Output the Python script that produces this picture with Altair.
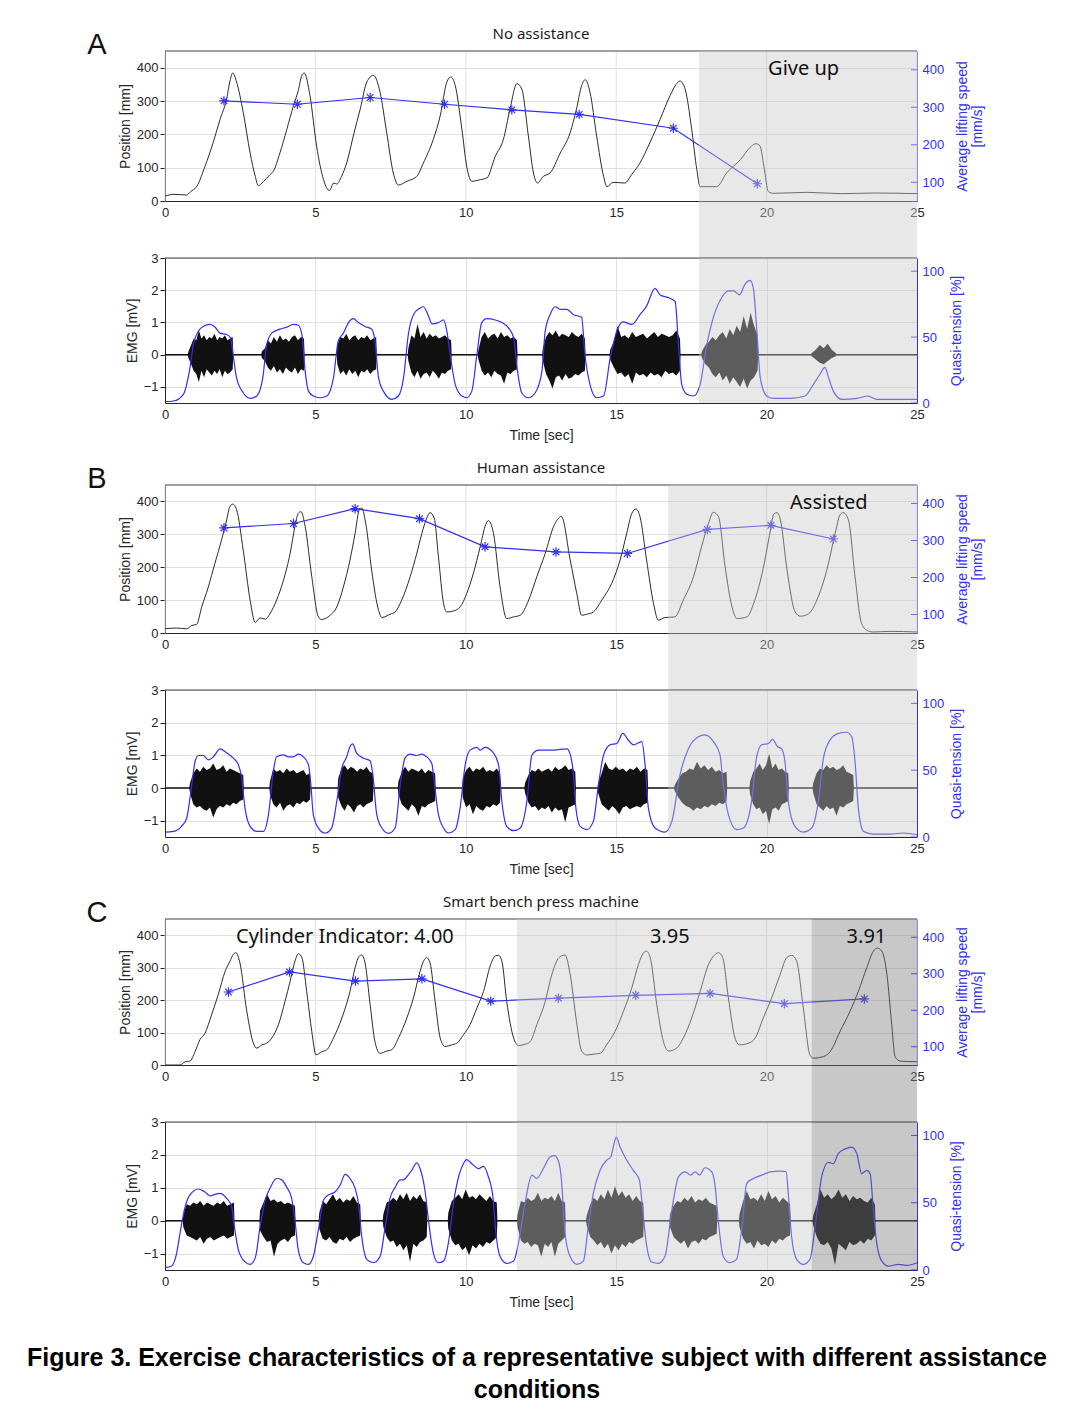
import altair as alt
import numpy as np
import pandas as pd

# ---------------- data ----------------
X_TICKS = [0, 5, 10, 15, 20, 25]
POS_TICKS = [0, 100, 200, 300, 400]
SPD_TICKS = [100, 200, 300, 400]
EMG_TICKS = [-1, 0, 1, 2, 3]
QT_TICKS = [0, 50, 100]

# Panel A - position [mm] (time, value)
A_POS = [(0, 15), (0.3, 20), (0.72, 18), (0.85, 28), (1.05, 43), (1.33, 104), (1.6, 175), (1.83, 245), (2.05, 306), (2.16, 360),
         (2.25, 384), (2.38, 357), (2.6, 266), (2.83, 144), (3.0, 74), (3.1, 46), (3.27, 58), (3.49, 79), (3.6, 89), (3.82, 144),
         (4.05, 215), (4.27, 286), (4.43, 331), (4.55, 377), (4.63, 384), (4.82, 316), (5.04, 165), (5.27, 64), (5.47, 31), (5.6, 54),
         (5.71, 51), (5.87, 74), (6.04, 114), (6.26, 195), (6.49, 276), (6.71, 357), (6.93, 377), (7.15, 326), (7.37, 205), (7.59, 84),
         (7.76, 48), (8.04, 59), (8.37, 74), (8.59, 114), (8.92, 185), (9.15, 256), (9.37, 357), (9.5, 372), (9.65, 346), (9.87, 215),
         (10.03, 104), (10.2, 59), (10.48, 64), (10.7, 69), (10.98, 134), (11.25, 185), (11.47, 276), (11.7, 352), (11.86, 336), (12.08, 195),
         (12.25, 84), (12.38, 54), (12.58, 74), (12.8, 84), (13.14, 144), (13.47, 205), (13.68, 276), (13.85, 346), (13.97, 364), (14.13, 326),
         (14.35, 195), (14.58, 74), (14.69, 43), (14.9, 56), (15.29, 54), (15.51, 79), (15.79, 114), (16.12, 175), (16.46, 245), (16.79, 316),
         (17.01, 352), (17.12, 360), (17.29, 336), (17.51, 215), (17.68, 94), (17.79, 43), (18.34, 43), (18.67, 84), (19.13, 124), (19.5, 165),
         (19.65, 172), (19.78, 165), (19.91, 104), (20.06, 28), (20.23, 23), (21.33, 26), (22.5, 22), (23.6, 24), (25, 22)]
A_SPD_T = [1.96, 4.40, 6.82, 9.29, 11.53, 13.77, 16.90, 19.69]
A_SPD = [317, 308, 326, 308, 293, 281, 244, 96]
# Panel A - quasi-tension [%]
A_QT = [(0, 1), (0.28, 1.5), (0.61, 6.6), (0.83, 26.8), (0.94, 44), (1.11, 54.5), (1.27, 58), (1.5, 59.6), (1.66, 57.6), (1.83, 53),
        (2.05, 52), (2.18, 49.5), (2.25, 39), (2.38, 19), (2.6, 7.8), (2.83, 3.5), (3.05, 5.3), (3.25, 19), (3.38, 44), (3.55, 53),
        (3.82, 56), (4.05, 57.6), (4.27, 59.6), (4.43, 59), (4.55, 52), (4.66, 24), (4.77, 9), (4.93, 5.3), (5.16, 4), (5.38, 5.3),
        (5.6, 19), (5.76, 47), (5.93, 53), (6.1, 61), (6.26, 64), (6.43, 61), (6.65, 58), (6.87, 56), (6.98, 47), (7.1, 19),
        (7.26, 9), (7.54, 2.8), (7.76, 5.3), (7.93, 19), (8.09, 52), (8.26, 67), (8.48, 72), (8.59, 73), (8.76, 66), (8.87, 60),
        (9.09, 61), (9.26, 63), (9.37, 54.5), (9.48, 37), (9.65, 14), (9.87, 5.3), (10.03, 4), (10.2, 9), (10.37, 37), (10.53, 61),
        (10.7, 64), (10.98, 63), (11.2, 61), (11.42, 57), (11.59, 49.5), (11.72, 24), (11.86, 7.8), (12.08, 4), (12.31, 7.8), (12.53, 24),
        (12.64, 54.5), (12.8, 67), (12.97, 73), (13.14, 71), (13.36, 71), (13.58, 67), (13.74, 66), (13.85, 65), (13.96, 37), (14.13, 14),
        (14.35, 4), (14.58, 5.3), (14.8, 34), (15.02, 54.5), (15.22, 61.6), (15.52, 59.6), (15.79, 67), (16.01, 73.5), (16.29, 87), (16.46, 82),
        (16.73, 80), (16.96, 77), (17.07, 44), (17.18, 14), (17.35, 6.6), (17.57, 5.3), (17.79, 14), (18.01, 44), (18.23, 65), (18.51, 80),
        (18.73, 85), (18.9, 85), (19.1, 82), (19.28, 90), (19.45, 93), (19.56, 87), (19.67, 57), (19.79, 19), (20.0, 5.3), (20.22, 3.5),
        (20.78, 3.5), (21.28, 5.3), (21.55, 14), (21.78, 22), (21.94, 27), (22.05, 20), (22.22, 9), (22.5, 2.8), (23.0, 3.5), (23.38, 5.3),
        (23.66, 2.8), (25, 2.8)]
# Panel A - EMG bursts [mV]: (start s, end s, upper peaks, lower peaks)
A_EMG = [
    (0.78, 2.25, [0.1, 0.3, 0.5, 0.45, 0.75, 0.5, 0.6, 0.45, 0.55, 0.5, 0.65, 0.45, 0.55, 0.5, 0.6, 0.45, 0.5, 0.55],
     [-0.1, -0.3, -0.5, -0.6, -0.85, -0.5, -0.7, -0.45, -0.55, -0.65, -0.5, -0.6, -0.45, -0.7, -0.5, -0.6, -0.55, -0.45]),
    (3.22, 4.62, [0.1, 0.2, 0.45, 0.35, 0.55, 0.4, 0.6, 0.45, 0.5, 0.4, 0.55, 0.6, 0.45, 0.55, 0.5],
     [-0.1, -0.2, -0.4, -0.5, -0.35, -0.55, -0.45, -0.6, -0.4, -0.5, -0.55, -0.4, -0.6, -0.45, -0.5]),
    (5.73, 7.02, [0.3, 0.55, 0.5, 0.65, 0.45, 0.55, 0.6, 0.45, 0.55, 0.5, 0.6, 0.45, 0.5, 0.55],
     [-0.3, -0.6, -0.5, -0.65, -0.45, -0.6, -0.5, -0.7, -0.5, -0.55, -0.45, -0.6, -0.5, -0.45]),
    (8.09, 9.51, [0.2, 0.6, 0.5, 0.95, 0.55, 0.7, 0.5, 0.65, 0.55, 0.6, 0.5, 0.55, 0.6, 0.5, 0.45],
     [-0.2, -0.55, -0.7, -0.5, -0.75, -0.6, -0.55, -0.7, -0.5, -0.6, -0.75, -0.55, -0.6, -0.5, -0.45]),
    (10.42, 11.7, [0.15, 0.55, 0.7, 0.5, 0.6, 0.65, 0.5, 0.7, 0.55, 0.6, 0.5, 0.55, 0.45],
     [-0.15, -0.5, -0.65, -0.55, -0.7, -0.5, -0.6, -0.65, -0.9, -0.55, -0.6, -0.5, -0.45]),
    (12.56, 13.96, [0.2, 0.55, 0.7, 0.6, 0.75, 0.55, 0.65, 0.6, 0.55, 0.7, 0.6, 0.55, 0.65, 0.5],
     [-0.2, -0.6, -0.8, -1.05, -0.7, -0.65, -0.8, -0.6, -0.75, -0.7, -0.6, -0.65, -0.55, -0.5]),
    (14.8, 17.12, [0.15, 0.4, 0.9, 0.55, 0.6, 0.5, 0.7, 0.55, 0.6, 0.65, 0.5, 0.6, 0.7, 0.55, 0.65, 0.6, 0.55, 0.6, 0.75, 0.5],
     [-0.15, -0.4, -0.6, -0.55, -0.7, -0.6, -0.9, -0.55, -0.65, -0.6, -0.7, -0.55, -0.65, -0.6, -0.7, -0.5, -0.6, -0.55, -0.65, -0.5]),
    (17.85, 19.7, [0.1, 0.3, 0.4, 0.55, 0.45, 0.6, 0.7, 0.5, 0.8, 0.6, 0.9, 0.7, 1.2, 0.8, 1.3, 0.9, 0.6],
     [-0.1, -0.3, -0.4, -0.6, -0.7, -0.55, -0.8, -0.65, -0.9, -0.7, -0.85, -1.0, -0.75, -1.05, -0.8, -0.7, -0.5]),
    (21.5, 22.3, [0.05, 0.15, 0.3, 0.2, 0.34, 0.15, 0.05],
     [-0.05, -0.15, -0.25, -0.3, -0.2, -0.1, -0.05]),
]
A_SHADE = [17.75, 25]

# Panel B
B_POS = [(0, 13), (0.39, 15), (0.72, 13), (0.89, 23), (1.05, 26), (1.22, 79), (1.44, 140), (1.66, 212), (1.88, 283), (2.05, 344),
         (2.16, 385), (2.25, 392), (2.38, 375), (2.6, 252), (2.83, 100), (3.0, 32), (3.16, 46), (3.33, 42), (3.49, 59), (3.71, 100),
         (3.94, 161), (4.16, 242), (4.32, 324), (4.43, 364), (4.52, 369), (4.66, 324), (4.88, 171), (5.1, 49), (5.21, 41), (5.49, 54),
         (5.71, 79), (5.93, 140), (6.15, 222), (6.32, 303), (6.46, 375), (6.54, 380), (6.69, 324), (6.87, 191), (7.1, 69), (7.21, 47),
         (7.48, 57), (7.65, 64), (7.87, 100), (8.15, 171), (8.37, 242), (8.54, 303), (8.7, 349), (8.81, 366), (8.95, 349), (9.09, 232),
         (9.26, 90), (9.37, 64), (9.59, 67), (9.81, 79), (10.03, 120), (10.25, 181), (10.48, 263), (10.64, 324), (10.75, 342), (10.92, 303),
         (11.14, 140), (11.36, 44), (11.59, 49), (11.81, 54), (12.09, 100), (12.36, 171), (12.64, 242), (12.92, 324), (13.18, 354), (13.47, 222),
         (13.69, 120), (13.85, 54), (14.02, 57), (14.24, 64), (14.52, 100), (14.85, 151), (15.13, 222), (15.35, 303), (15.52, 364), (15.66, 377),
         (15.79, 354), (16.01, 222), (16.24, 90), (16.4, 39), (16.62, 47), (16.95, 49), (17.23, 100), (17.57, 171), (17.84, 263), (18.07, 334),
         (18.23, 367), (18.4, 354), (18.62, 202), (18.85, 79), (19.02, 44), (19.35, 49), (19.57, 90), (19.85, 181), (20.13, 313), (20.24, 362),
         (20.35, 366), (20.46, 344), (20.68, 191), (20.95, 64), (21.12, 51), (21.4, 59), (21.67, 100), (22.0, 191), (22.28, 303), (22.44, 359),
         (22.55, 366), (22.72, 344), (22.94, 171), (23.16, 28), (23.38, 6), (23.55, 3), (24.1, 5), (25, 3)]
B_SPD_T = [1.96, 4.27, 6.32, 8.46, 10.64, 13.0, 15.37, 18.03, 20.14, 22.22]
B_SPD = [334, 346, 386, 359, 283, 269, 265, 330, 341, 304]
B_QT = [(0, 3.7), (0.28, 4.2), (0.55, 8), (0.72, 14), (0.89, 39), (1.0, 56.5), (1.11, 61), (1.27, 61), (1.44, 57.7), (1.61, 60),
        (1.83, 66), (2.05, 63), (2.27, 59), (2.44, 54), (2.55, 44), (2.66, 21.6), (2.83, 8), (3.05, 4.2), (3.27, 4.2), (3.44, 16.7),
        (3.6, 49), (3.71, 60), (3.94, 61.4), (4.1, 60), (4.27, 60), (4.43, 62), (4.6, 60), (4.77, 54), (4.85, 39), (4.93, 16.7),
        (5.1, 6.7), (5.32, 3), (5.54, 6.7), (5.71, 26.6), (5.88, 51.5), (6.04, 60), (6.15, 67.7), (6.24, 69.7), (6.37, 62.7), (6.6, 59),
        (6.82, 57), (6.91, 46.5), (7.04, 16.7), (7.21, 6.7), (7.43, 2.7), (7.65, 6.7), (7.82, 39), (7.98, 59), (8.15, 62), (8.37, 61),
        (8.54, 62), (8.7, 60), (8.87, 55), (8.95, 41.5), (9.09, 16.7), (9.26, 6.7), (9.42, 3), (9.65, 5.5), (9.81, 21.6), (9.98, 54),
        (10.14, 65), (10.37, 67), (10.48, 65), (10.64, 67), (10.92, 62.7), (11.09, 54), (11.2, 26.6), (11.36, 8), (11.59, 4.7), (11.81, 6.7),
        (12.03, 26.6), (12.2, 61.4), (12.42, 65), (12.92, 65), (13.36, 66), (13.47, 62), (13.58, 46.5), (13.66, 21.6), (13.8, 8), (14.02, 5.5),
        (14.24, 11.7), (14.41, 39), (14.58, 61.4), (14.8, 69), (15.02, 70), (15.22, 77.6), (15.4, 72.6), (15.57, 69), (15.85, 71.4), (15.96, 54),
        (16.07, 21.6), (16.29, 6.7), (16.62, 3.7), (16.85, 11.7), (17.12, 46.5), (17.4, 66), (17.73, 75), (17.95, 76.4), (18.23, 71.4), (18.45, 61.4),
        (18.56, 39), (18.73, 16.7), (19.0, 5.5), (19.23, 6.7), (19.5, 26.6), (19.67, 60), (19.84, 69), (20.06, 70), (20.2, 73), (20.36, 67.7),
        (20.5, 66), (20.61, 56.5), (20.72, 26.6), (20.94, 8), (21.22, 3.7), (21.5, 6.7), (21.72, 26.6), (21.89, 59), (22.11, 72.6), (22.39, 77.6),
        (22.66, 78.4), (22.83, 75), (22.94, 56.5), (23.05, 21.6), (23.22, 4.2), (23.55, 2.2), (24.1, 2.2), (24.55, 3), (25, 1.7)]
B_EMG = [
    (0.83, 2.6, [0.15, 0.45, 0.6, 0.5, 0.65, 0.55, 0.6, 0.75, 0.55, 0.6, 0.7, 0.5, 0.6, 0.55, 0.5, 0.45, 0.4],
     [-0.15, -0.5, -0.6, -0.55, -0.65, -0.7, -0.6, -0.9, -0.65, -0.55, -0.6, -0.5, -0.55, -0.45, -0.5, -0.4, -0.35]),
    (3.49, 4.82, [0.2, 0.6, 0.5, 0.55, 0.45, 0.6, 0.5, 0.55, 0.45, 0.5, 0.55, 0.4, 0.45],
     [-0.2, -0.5, -0.6, -0.45, -0.7, -0.55, -0.5, -0.6, -0.45, -0.5, -0.4, -0.45, -0.35]),
    (5.76, 6.91, [0.3, 0.6, 0.7, 0.55, 0.65, 0.6, 0.5, 0.6, 0.55, 0.65, 0.5, 0.45],
     [-0.3, -0.55, -0.7, -0.5, -0.6, -0.75, -0.55, -0.5, -0.6, -0.5, -0.45, -0.4]),
    (7.76, 8.98, [0.2, 0.5, 0.65, 0.5, 0.6, 0.55, 0.5, 0.6, 0.45, 0.55, 0.5, 0.45],
     [-0.2, -0.5, -0.6, -0.7, -0.5, -0.6, -0.85, -0.55, -0.6, -0.5, -0.45, -0.4]),
    (9.9, 11.14, [0.3, 0.55, 0.65, 0.5, 0.6, 0.55, 0.65, 0.5, 0.55, 0.5, 0.6, 0.45],
     [-0.3, -0.6, -0.5, -0.8, -0.55, -0.65, -0.7, -0.55, -0.6, -0.5, -0.55, -0.45]),
    (11.97, 13.64, [0.15, 0.4, 0.55, 0.5, 0.6, 0.5, 0.55, 0.6, 0.5, 0.65, 0.55, 0.6, 0.7, 0.55, 0.6, 0.5],
     [-0.15, -0.45, -0.6, -0.55, -0.7, -0.6, -0.65, -0.55, -0.75, -0.6, -0.7, -0.65, -1.05, -0.6, -0.55, -0.5]),
    (14.4, 16.04, [0.15, 0.45, 0.8, 0.6, 0.55, 0.65, 0.55, 0.6, 0.5, 0.6, 0.55, 0.65, 0.5, 0.6, 0.55],
     [-0.15, -0.5, -0.6, -0.7, -0.55, -0.65, -0.8, -0.6, -0.55, -0.65, -0.6, -0.55, -0.6, -0.5, -0.45]),
    (16.95, 18.67, [0.1, 0.3, 0.45, 0.5, 0.6, 0.55, 0.8, 0.6, 0.7, 0.55, 0.65, 0.5, 0.55, 0.45, 0.5],
     [-0.1, -0.3, -0.45, -0.55, -0.6, -0.7, -0.6, -0.65, -0.55, -0.6, -0.5, -0.55, -0.45, -0.5, -0.4]),
    (19.45, 20.72, [0.2, 0.5, 0.6, 0.75, 0.55, 0.7, 1.05, 0.6, 0.75, 0.55, 0.6, 0.5, 0.45],
     [-0.2, -0.5, -0.65, -0.6, -0.8, -0.7, -1.1, -0.65, -0.6, -0.7, -0.5, -0.45, -0.4]),
    (21.55, 22.88, [0.15, 0.45, 0.6, 0.55, 0.7, 0.6, 0.65, 0.55, 0.6, 0.7, 0.5, 0.45, 0.4],
     [-0.15, -0.5, -0.6, -0.7, -0.55, -0.65, -0.6, -0.85, -0.55, -0.6, -0.5, -0.45, -0.4]),
]
B_SHADE = [16.73, 25]

# Panel C
C_POS = [(0, 0), (0.5, 0), (0.67, 10), (0.83, 12), (1.0, 41), (1.16, 78), (1.33, 98), (1.55, 155), (1.77, 217), (2.0, 289),
         (2.16, 320), (2.27, 341), (2.36, 346), (2.49, 315), (2.72, 165), (2.94, 67), (3.05, 52), (3.22, 62), (3.38, 67), (3.55, 83),
         (3.77, 124), (3.99, 196), (4.16, 258), (4.32, 320), (4.43, 343), (4.55, 331), (4.71, 227), (4.88, 103), (5.02, 31), (5.21, 41),
         (5.38, 47), (5.6, 83), (5.88, 145), (6.15, 227), (6.32, 300), (6.46, 336), (6.54, 339), (6.65, 315), (6.82, 186), (6.98, 72),
         (7.15, 36), (7.37, 43), (7.54, 47), (7.76, 83), (8.04, 145), (8.26, 207), (8.48, 289), (8.63, 326), (8.7, 331), (8.81, 315),
         (8.98, 196), (9.15, 83), (9.31, 57), (9.53, 62), (9.7, 67), (9.92, 93), (10.14, 124), (10.37, 176), (10.59, 227), (10.81, 305),
         (10.98, 336), (11.09, 338), (11.2, 320), (11.36, 196), (11.59, 83), (11.75, 60), (11.97, 64), (12.14, 72), (12.36, 124), (12.64, 196),
         (12.86, 279), (13.1, 331), (13.3, 339), (13.47, 279), (13.68, 134), (13.85, 43), (14.02, 31), (14.3, 34), (14.47, 36), (14.68, 62),
         (14.96, 103), (15.24, 165), (15.52, 238), (15.74, 310), (15.91, 346), (16.0, 351), (16.13, 331), (16.35, 186), (16.57, 72), (16.74, 43),
         (17.01, 52), (17.23, 83), (17.51, 145), (17.79, 227), (18.07, 310), (18.29, 341), (18.4, 346), (18.54, 331), (18.73, 207), (18.95, 83),
         (19.1, 62), (19.39, 67), (19.62, 83), (19.89, 145), (20.17, 207), (20.45, 279), (20.67, 331), (20.84, 338), (21.0, 320), (21.22, 176),
         (21.44, 31), (21.55, 21), (21.89, 26), (22.11, 41), (22.44, 103), (22.77, 165), (23.05, 227), (23.33, 300), (23.55, 351), (23.68, 360),
         (23.83, 351), (24.0, 279), (24.16, 124), (24.27, 26), (24.44, 12), (25, 10)]
C_SPD_T = [2.11, 4.14, 6.33, 8.54, 10.83, 13.08, 15.65, 18.12, 20.59, 23.25]
C_SPD = [250, 305, 280, 286, 225, 233, 241, 246, 218, 231]
C_QT = [(0, 1.7), (0.22, 3), (0.39, 12.8), (0.5, 27.5), (0.67, 47), (0.83, 55.8), (1.11, 60.2), (1.33, 58), (1.5, 55), (1.61, 55.8),
        (1.83, 57), (2.05, 53.3), (2.22, 47), (2.29, 35), (2.44, 15), (2.66, 6), (2.83, 4.2), (3.0, 9), (3.16, 32), (3.33, 52),
        (3.49, 60.7), (3.71, 68), (3.88, 67), (4.05, 61.4), (4.21, 53.3), (4.32, 37), (4.43, 15), (4.6, 5.4), (4.77, 4.2), (4.93, 10),
        (5.1, 30), (5.27, 52), (5.43, 55.8), (5.65, 58), (5.82, 63), (5.99, 71), (6.15, 68), (6.32, 60.7), (6.43, 49.6), (6.54, 25),
        (6.71, 7.9), (6.93, 5.4), (7.15, 10), (7.32, 32), (7.48, 53.3), (7.65, 61.4), (7.82, 67), (7.93, 67), (8.04, 69.3), (8.2, 74),
        (8.37, 79.6), (8.48, 75.4), (8.65, 58), (8.76, 37), (8.92, 12.8), (9.09, 5.4), (9.26, 6.6), (9.42, 20), (9.59, 49.6), (9.76, 69.3),
        (9.92, 79), (10.03, 82), (10.2, 79), (10.42, 75.4), (10.59, 77), (10.75, 69.3), (10.9, 54.5), (11.0, 27.5), (11.14, 10), (11.36, 4.9),
        (11.59, 6.6), (11.75, 20), (11.97, 49.6), (12.2, 70.5), (12.36, 68), (12.58, 75.4), (12.8, 84), (12.95, 85), (13.08, 81), (13.18, 67),
        (13.28, 32), (13.42, 12.8), (13.69, 4.2), (13.91, 6.6), (14.07, 32), (14.24, 57), (14.46, 74), (14.68, 81.6), (14.82, 84), (14.93, 94),
        (15.0, 98.8), (15.13, 91.4), (15.35, 81.6), (15.57, 74), (15.77, 67), (15.85, 52), (16.0, 20), (16.18, 5.9), (16.4, 4.9), (16.62, 10),
        (16.85, 44.7), (17.07, 69.3), (17.29, 73), (17.48, 70.5), (17.62, 73), (17.77, 70.5), (17.95, 76), (18.18, 73), (18.29, 62), (18.4, 35),
        (18.56, 10), (18.78, 5.4), (19.0, 7.9), (19.17, 30), (19.34, 64.4), (19.56, 68), (19.84, 70.5), (20.12, 73), (20.45, 73.5), (20.65, 73),
        (20.72, 57), (20.83, 25), (21.0, 7.9), (21.22, 4.2), (21.44, 7.9), (21.64, 37), (21.83, 69.3), (22.05, 80), (22.22, 79), (22.38, 86.5),
        (22.61, 90), (22.83, 91.4), (23.0, 86.5), (23.16, 71.7), (23.33, 74), (23.44, 71.7), (23.55, 44.7), (23.66, 20), (23.83, 6.6), (24.05, 2.9),
        (24.38, 4.2), (24.66, 3.4), (25, 5.4)]
C_EMG = [
    (0.61, 2.29, [0.2, 0.5, 0.45, 0.55, 0.5, 0.6, 0.45, 0.55, 0.5, 0.45, 0.55, 0.5, 0.6, 0.45, 0.5, 0.55],
     [-0.2, -0.45, -0.5, -0.55, -0.6, -0.5, -0.7, -0.55, -0.5, -0.6, -0.55, -0.5, -0.45, -0.55, -0.5, -0.45]),
    (3.16, 4.32, [0.3, 0.55, 0.8, 0.6, 0.65, 0.55, 0.6, 0.5, 0.55, 0.5, 0.45],
     [-0.3, -0.5, -0.65, -0.6, -1.1, -0.7, -0.6, -0.55, -0.65, -0.5, -0.45]),
    (5.13, 6.49, [0.25, 0.6, 0.5, 0.65, 0.8, 0.6, 0.7, 0.55, 0.65, 0.6, 0.75, 0.55, 0.5],
     [-0.25, -0.55, -0.6, -0.5, -0.65, -0.7, -0.55, -0.6, -0.5, -0.65, -0.55, -0.5, -0.45]),
    (7.26, 8.7, [0.2, 0.55, 0.6, 0.7, 0.6, 0.8, 0.65, 0.85, 0.6, 0.75, 0.65, 0.8, 0.6, 0.55],
     [-0.2, -0.5, -0.65, -0.6, -0.8, -0.7, -0.9, -0.75, -1.25, -0.7, -0.8, -0.65, -0.6, -0.5]),
    (9.42, 11.03, [0.25, 0.6, 0.7, 0.8, 0.65, 0.95, 0.7, 0.75, 0.65, 0.8, 0.7, 0.6, 0.75, 0.6, 0.55],
     [-0.25, -0.6, -0.75, -0.7, -0.9, -0.8, -1.05, -0.75, -0.85, -0.7, -0.8, -0.65, -0.7, -0.6, -0.5]),
    (11.72, 13.3, [0.2, 0.6, 0.55, 0.7, 0.6, 0.65, 0.85, 0.6, 0.7, 0.65, 0.75, 0.6, 0.85, 0.6, 0.55],
     [-0.2, -0.6, -0.7, -0.65, -0.8, -0.7, -0.75, -1.1, -0.7, -0.8, -0.65, -1.1, -0.7, -0.6, -0.5]),
    (14.02, 15.9, [0.15, 0.5, 0.7, 0.6, 0.8, 0.65, 0.95, 0.7, 1.05, 0.75, 0.9, 0.7, 0.8, 0.6, 0.75, 0.6, 0.55],
     [-0.15, -0.5, -0.6, -0.75, -0.65, -0.85, -0.7, -1.0, -0.75, -0.9, -0.7, -0.8, -0.65, -0.7, -0.6, -0.55, -0.5]),
    (16.79, 18.34, [0.2, 0.45, 0.6, 0.55, 0.7, 0.6, 0.75, 0.55, 0.65, 0.6, 0.7, 0.55, 0.5, 0.45],
     [-0.2, -0.5, -0.6, -0.7, -0.6, -0.85, -0.65, -0.6, -0.7, -0.55, -0.6, -0.5, -0.45, -0.4]),
    (19.1, 20.78, [0.2, 0.6, 0.9, 0.65, 0.7, 0.6, 0.8, 0.6, 0.9, 0.65, 0.75, 0.55, 0.7, 0.6, 0.5],
     [-0.2, -0.55, -0.7, -0.65, -0.85, -0.6, -0.75, -0.7, -0.8, -0.6, -0.7, -0.55, -0.6, -0.5, -0.45]),
    (21.55, 23.6, [0.15, 0.5, 0.95, 0.7, 0.8, 0.65, 0.75, 0.95, 0.7, 0.8, 0.6, 0.75, 0.65, 0.7, 0.6, 0.55, 0.7, 0.5],
     [-0.15, -0.5, -0.7, -0.75, -0.65, -0.85, -1.35, -0.7, -0.8, -0.9, -0.65, -0.75, -0.7, -0.6, -0.7, -0.55, -0.6, -0.45]),
]
C_SHADE_LIGHT = [11.7, 21.5]
C_SHADE_DARK = [21.5, 25]

A_NOTES = [(20.05, "Give up")]
B_NOTES = [(20.78, "Assisted")]
C_NOTES = [(2.36, "Cylinder Indicator: 4.00"), (16.12, "3.95"), (22.66, "3.91")]

CAPTION = ("Figure 3. Exercise characteristics of a representative subject with different assistance\n"
           "conditions")

# ---------------- styling / layout ----------------
W = 752
TOP_PAD = 25          # extra room above each upper panel (gives the larger gap between groups)
GAP = 57              # vertical gap between plot areas
FONT = "Liberation Sans"
ANN_FONT = "Noto Sans"
AX = "#262626"
GRID = "#e1e1e1"
BLUE = "#3030f2"
LINE = "#2b2b2b"
EMG_COLOR = "#111111"
STAR = "M-1,0L1,0M0,-1L0,1M-0.7,-0.7L0.7,0.7M-0.7,0.7L0.7,-0.7"
SHADE_LIGHT = "#c8c8c8"
SHADE_DARK = "#7b7b7b"
SHADE_OPACITY = 0.42

x_scale = alt.Scale(domain=[0, 25], nice=False, zero=False)
one = pd.DataFrame({"k": [0]})
grid_df = pd.DataFrame({"g": X_TICKS})


def x_axis(title, grid):
    return alt.Axis(values=X_TICKS, grid=grid, gridColor=GRID, ticks=False, tickSize=0, labelPadding=5,
                    labelFlush=False, labelFont=FONT, labelFontSize=13, labelColor=AX, domainColor=AX,
                    title=title, titleFont=FONT, titleFontSize=14, titleFontWeight="normal", titleColor=AX,
                    titlePadding=7)


def X(field, title, grid):
    return alt.X(f"{field}:Q", scale=x_scale, axis=x_axis(title, grid))


def left_axis(values, title):
    return alt.Axis(orient="left", values=values, grid=True, gridColor=GRID, tickSize=5, tickColor=AX,
                    labelPadding=2, labelFont=FONT, labelFontSize=13, labelColor=AX, domainColor=AX,
                    title=title, titleFont=FONT, titleFontSize=14, titleFontWeight="normal", titleColor=AX,
                    titlePadding=4)


def right_axis(values, title, pad):
    return alt.Axis(orient="right", values=values, grid=False, ticks=False, tickSize=0, labelPadding=5,
                    labelFont=FONT, labelFontSize=13, labelColor=BLUE, domainColor=BLUE,
                    title=title, titleFont=FONT, titleFontSize=14, titleFontWeight="normal", titleColor=BLUE,
                    titleAngle=270, titleBaseline="top", titlePadding=pad, titleLineHeight=15)


def overlay(span, color, y0, y1, xt, grid):
    df = pd.DataFrame({"x0": [span[0]], "x1": [span[1]]})
    return alt.Chart(df).mark_rect(color=color, opacity=SHADE_OPACITY).encode(
        x=X("x0", xt, grid), x2="x1:Q", y=alt.value(y0), y2=alt.value(y1))


def border(y0):
    return alt.Chart(one).mark_rule(color="#404040", strokeWidth=1).encode(
        x=alt.value(0), x2=alt.value(W), y=alt.value(y0))


def top_panel(pos, spd_t, spd_v, shades, notes, title, letter, H, anchor=False):
    Hc = H + TOP_PAD
    pos_df = pd.DataFrame(pos, columns=["t", "v"])
    spd_df = pd.DataFrame({"t": spd_t, "v": spd_v})
    l_scale = alt.Scale(domain=[0, 450], range=[Hc, TOP_PAD], nice=False, zero=False)
    r_scale = alt.Scale(domain=[50, 450], range=[Hc, TOP_PAD], nice=False, zero=False)
    r_ax = right_axis(SPD_TICKS, ["Average lifting speed", "[mm/s]"], -3)
    vgrid = alt.Chart(grid_df).mark_rule(color=GRID, strokeWidth=1).encode(
        x=X("g", None, False), y=alt.value(TOP_PAD), y2=alt.value(Hc))
    pos_line = alt.Chart(pos_df).mark_line(color=LINE, strokeWidth=1, interpolate="monotone").encode(
        x=X("t", None, False), y=alt.Y("v:Q", scale=l_scale, axis=left_axis(POS_TICKS, "Position [mm]")))
    spd_line = alt.Chart(spd_df).mark_line(color=BLUE, strokeWidth=1.2).encode(
        x=X("t", None, False), y=alt.Y("v:Q", scale=r_scale, axis=r_ax))
    spd_pts = alt.Chart(spd_df).mark_point(shape=STAR, filled=False, color=BLUE, size=90, strokeWidth=1.2,
                                           opacity=1).encode(
        x=X("t", None, False), y=alt.Y("v:Q", scale=r_scale, axis=r_ax))
    r_ticks = alt.Chart(pd.DataFrame({"v": SPD_TICKS})).mark_rule(color=BLUE, strokeWidth=1).encode(
        x=alt.value(W - 6), x2=alt.value(W), y=alt.Y("v:Q", scale=r_scale, axis=r_ax))
    right = alt.layer(spd_line, spd_pts, r_ticks)
    ovs = [overlay(span, col, TOP_PAD, Hc + GAP, None, False) for span, col in shades]
    note_df = pd.DataFrame(notes, columns=["t", "label"])
    note_layer = alt.Chart(note_df).mark_text(align="left", baseline="alphabetic", font=ANN_FONT, fontSize=20,
                                              color="#111111").encode(
        x=X("t", None, False), y=alt.value(TOP_PAD + 24), text="label:N")
    title_layer = alt.Chart(one).mark_text(text=title, align="center", baseline="alphabetic", font=ANN_FONT,
                                           fontSize=15, color="#1a1a1a").encode(
        x=alt.value(W / 2), y=alt.value(TOP_PAD - 12))
    letter_layer = alt.Chart(one).mark_text(text=letter, align="center", baseline="alphabetic", font=FONT,
                                            fontSize=29, color="#111111").encode(
        x=alt.value(-68), y=alt.value(TOP_PAD + 3))
    layers = [vgrid, pos_line, right, border(TOP_PAD)] + ovs + [note_layer, title_layer, letter_layer]
    if anchor:
        layers.append(alt.Chart(one).mark_rule(color="white", strokeWidth=1).encode(
            x=alt.value(-156.5), x2=alt.value(-150), y=alt.value(TOP_PAD - 42.5)))
    return alt.layer(*layers).resolve_scale(y="independent").properties(width=W, height=Hc)


def emg_frame(bursts, base=0.022):
    """Upper/lower peak envelope of each EMG burst; a thin baseline between bursts."""
    rows = [(0.0, base, -base)]
    for s, e, hi, lo in bursts:
        rows.append((s - 0.02, base, -base))
        rows += list(zip(np.linspace(s, e, len(hi)), hi, lo))
        rows.append((e + 0.02, base, -base))
    rows.append((25.0, base, -base))
    return pd.DataFrame(rows, columns=["t", "hi", "lo"])


def bottom_panel(bursts, qt, shades, H, caption=False):
    emg_df = emg_frame(bursts)
    q_df = pd.DataFrame(qt, columns=["t", "v"])
    e_scale = alt.Scale(domain=[-1.5, 3], nice=False, zero=False)
    q_scale = alt.Scale(domain=[0, 110], nice=False, zero=False)
    q_ax = right_axis(QT_TICKS, "Quasi-tension [%]", 6)
    xt = "Time [sec]"
    emg = alt.Chart(emg_df).mark_area(color=EMG_COLOR, interpolate="linear", opacity=1).encode(
        x=X("t", xt, True), y=alt.Y("hi:Q", scale=e_scale, axis=left_axis(EMG_TICKS, "EMG [mV]")), y2="lo:Q")
    q_line = alt.Chart(q_df).mark_line(color=BLUE, strokeWidth=1.2, interpolate="monotone").encode(
        x=X("t", xt, True), y=alt.Y("v:Q", scale=q_scale, axis=q_ax))
    q_ticks = alt.Chart(pd.DataFrame({"v": QT_TICKS})).mark_rule(color=BLUE, strokeWidth=1).encode(
        x=alt.value(W - 6), x2=alt.value(W), y=alt.Y("v:Q", scale=q_scale, axis=q_ax))
    right = alt.layer(q_line, q_ticks)
    ovs = [overlay(span, col, 0, H, xt, True) for span, col in shades]
    layers = [emg, right, border(0)] + ovs
    if caption:
        layers.append(alt.Chart(one).mark_text(text=CAPTION, lineBreak="\n", lineHeight=32, align="center",
                                               baseline="alphabetic", font="Liberation Sans Narrow, Liberation Sans",
                                               fontWeight="bold", fontSize=25, color="#000000").encode(
            x=alt.value(372), y=alt.value(244)))
    return alt.layer(*layers).resolve_scale(y="independent").properties(width=W, height=H)


top_a = top_panel(A_POS, A_SPD_T, A_SPD, [(A_SHADE, SHADE_LIGHT)], A_NOTES, "No assistance", "A", 150, anchor=True)
bot_a = bottom_panel(A_EMG, A_QT, [(A_SHADE, SHADE_LIGHT)], 145)
top_b = top_panel(B_POS, B_SPD_T, B_SPD, [(B_SHADE, SHADE_LIGHT)], B_NOTES, "Human assistance", "B", 148)
bot_b = bottom_panel(B_EMG, B_QT, [(B_SHADE, SHADE_LIGHT)], 147)
top_c = top_panel(C_POS, C_SPD_T, C_SPD, [(C_SHADE_LIGHT, SHADE_LIGHT), (C_SHADE_DARK, SHADE_DARK)], C_NOTES,
                  "Smart bench press machine", "C", 146)
bot_c = bottom_panel(C_EMG, C_QT, [(C_SHADE_LIGHT, SHADE_LIGHT), (C_SHADE_DARK, SHADE_DARK)], 148, caption=True)

chart = alt.vconcat(top_a, bot_a, top_b, bot_b, top_c, bot_c, spacing=GAP, bounds="flush").properties(
    padding=0, background="white").configure_view(stroke=None)

chart.save("out.html", embed_options={"renderer": "svg", "actions": False})
